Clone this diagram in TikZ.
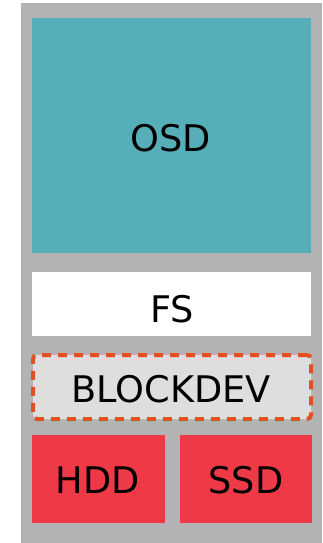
\documentclass[tikz,border=0pt]{standalone}
\usepackage{fontspec}
\setmainfont{DejaVu Sans}
\definecolor{stackgray}{HTML}{B3B3B3}
\definecolor{osdteal}{HTML}{56AEB9}
\definecolor{blkfill}{HTML}{DEDEDE}
\definecolor{blkline}{HTML}{E1501E}
\definecolor{diskred}{HTML}{EE3A46}
\begin{document}
\begin{tikzpicture}[x=0.75pt,y=-0.75pt,
  layer/.style={draw=none, inner sep=0pt, outer sep=0pt, anchor=north west},
  lbl/.style={font=\fontsize{27.5}{30}\selectfont, inner sep=0pt, text=black}]
\useasboundingbox (0,0) rectangle (322,543);
\node[layer, fill=stackgray, minimum width=225.75pt, minimum height=405pt] (bg) at (21,3) {};
\node[layer, fill=osdteal, minimum width=209.25pt, minimum height=176.25pt] (osd) at (32,18) {};
\node[layer, fill=white, minimum width=209.25pt, minimum height=48pt] (fs) at (32,272) {};
\node[layer, fill=blkfill, draw=blkline, line width=3pt, dash pattern=on 6.75pt off 5.25pt, rounded corners=3pt, minimum width=208.5pt, minimum height=48pt] (blk) at (33,355) {};
\node[layer, fill=diskred, minimum width=99.75pt, minimum height=66pt] (hdd) at (32,435) {};
\node[layer, fill=diskred, minimum width=99pt, minimum height=66pt] (ssd) at (180,435) {};
\node[lbl] (osdt) at (171,138) {OSD};
\node[lbl] (fst) at (172,309) {FS};
\node[lbl] (blkt) at (171,389) {BLOCKDEV};
\node[lbl] (hddt) at (98,480) {HDD};
\node[lbl] (ssdt) at (246,480) {SSD};
\end{tikzpicture}
\end{document}
